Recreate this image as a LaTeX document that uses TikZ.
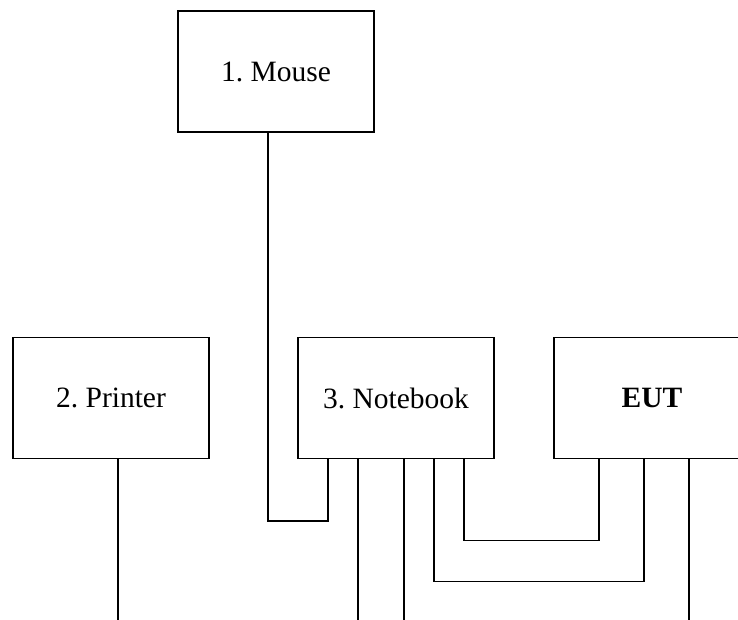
\documentclass[tikz,border=0pt]{standalone}
\usepackage{fontspec}
\setmainfont{Liberation Serif}
\usetikzlibrary{calc}
\frenchspacing
\begin{document}
\begin{tikzpicture}[x=1pt,y=-1pt,
  box/.style={draw, line width=1.3pt, rectangle, minimum width=196pt, minimum height=121pt, inner sep=0pt, outer sep=0pt, font=\fontsize{29.5}{33}\selectfont},
  wire/.style={line width=1.3pt}]
\useasboundingbox (0,0) rectangle (738,620);
\node[box] (mouse) at (276,71.5) {1. Mouse};
\node[box] (printer) at (111,398) {2. Printer};
\node[box] (note) at (396,398) {3. Notebook};
\node[box] (eut) at (652,398) {\textbf{EUT}};
% mouse to notebook
\draw[wire] ($(mouse.south west)+(90,0)$) -- ++(0,389) -| ($(note.south west)+(30,0)$);
% printer free line
\draw[wire] ($(printer.south west)+(105,0)$) -- ++(0,165);
% notebook free lines
\draw[wire] ($(note.south west)+(60,0)$) -- ++(0,165);
\draw[wire] ($(note.south west)+(106,0)$) -- ++(0,165);
% notebook to EUT
\draw[wire] ($(note.south west)+(136,0)$) -- ++(0,123) -| ($(eut.south west)+(90,0)$);
\draw[wire] ($(note.south west)+(166,0)$) -- ++(0,82) -| ($(eut.south west)+(45,0)$);
% EUT free line
\draw[wire] ($(eut.south west)+(135,0)$) -- ++(0,165);
\end{tikzpicture}
\end{document}
